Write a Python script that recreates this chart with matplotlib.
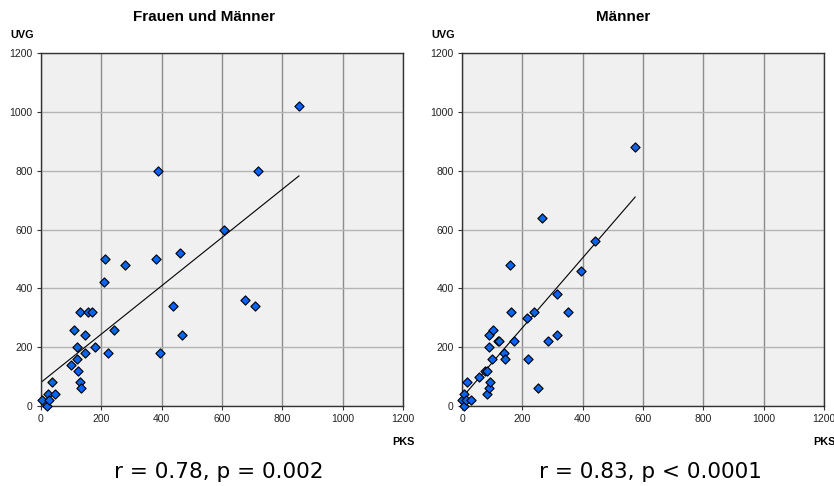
import numpy as np
import matplotlib
matplotlib.use("Agg")
import matplotlib.pyplot as plt

# Left panel: Frauen und Männer
pks_all = [2, 19, 22, 25, 36, 48, 100, 108, 119, 119, 124, 129, 129, 134, 146, 147, 155, 169,
           179, 208, 211, 223, 242, 278, 380, 388, 396, 438, 462, 468, 607, 676, 711, 719, 855]
uvg_all = [20, 0, 40, 20, 80, 40, 140, 260, 200, 160, 120, 320, 80, 60, 240, 180, 320, 320,
           200, 420, 500, 180, 260, 480, 500, 800, 180, 340, 520, 240, 600, 360, 340, 800, 1020]

# Right panel: Männer
pks_m = [0, 6, 8, 13, 18, 30, 58, 76, 83, 83, 88, 88, 88, 93, 99, 103, 119, 124, 139, 141,
         158, 164, 172, 217, 218, 240, 251, 266, 285, 314, 315, 350, 393, 440, 574]
uvg_m = [20, 0, 40, 20, 80, 20, 100, 120, 120, 40, 240, 200, 60, 80, 160, 260, 220, 220, 180, 160,
         480, 320, 220, 300, 160, 320, 60, 640, 220, 240, 380, 320, 460, 560, 880]

titles = ["Frauen und Männer", "Männer"]
stats = ["r = 0.78, p = 0.002", "r = 0.83, p < 0.0001"]
ticks = [0, 200, 400, 600, 800, 1000, 1200]

W, H = 834, 486
fig = plt.figure(figsize=(W / 100, H / 100), dpi=100)

panels = [(41, pks_all, uvg_all), (462, pks_m, uvg_m)]
title_x = [204, 623]
stat_x = [219, 650]

for i, (left_px, xs, ys) in enumerate(panels):
    ax = fig.add_axes([left_px / W, 1 - 406 / H, 362 / W, 353 / H])
    ax.set_facecolor("#f0f0f0")
    ax.set_xlim(0, 1200)
    ax.set_ylim(0, 1200)
    ax.set_xticks(ticks)
    ax.set_yticks(ticks)
    ax.tick_params(labelsize=7.5, length=3, width=0.8, color="#333333",
                   labelcolor="#222222", pad=3)
    for lab in ax.get_xticklabels() + ax.get_yticklabels():
        lab.set_family("Liberation Sans")
    ax.xaxis.grid(True, color="#8c8c8c", lw=1.0)
    ax.yaxis.grid(True, color="#b4b4b4", lw=1.0)
    ax.set_axisbelow(True)
    for s in ax.spines.values():
        s.set_color("#333333")
        s.set_linewidth(1.0)
    x = np.array(xs, float)
    y = np.array(ys, float)
    k, b = np.polyfit(x, y, 1)
    xl = np.array([x.min(), x.max()])
    ax.plot(xl, k * xl + b, color="black", lw=0.8, zorder=2)
    ax.scatter(x, y, marker="D", s=22, facecolor="#0a64f0", edgecolor="black",
               linewidth=0.8, zorder=3, clip_on=False)
    fig.text(title_x[i] / W, 1 - 17 / H, titles[i], ha="center", va="center",
             fontsize=11, fontweight="bold", family="Liberation Sans")
    fig.text((left_px - 31) / W, 1 - 35 / H, "UVG", ha="left", va="center",
             fontsize=7.8, fontweight="bold", family="Liberation Sans")
    fig.text((left_px + 362) / W, 1 - 442 / H, "PKS", ha="center", va="center",
             fontsize=7.8, fontweight="bold", family="Liberation Sans")
    fig.text(stat_x[i] / W, 1 - 472 / H, stats[i], ha="center", va="center",
             fontsize=15.5, family="DejaVu Sans")

fig.savefig("out.png", dpi=100)
